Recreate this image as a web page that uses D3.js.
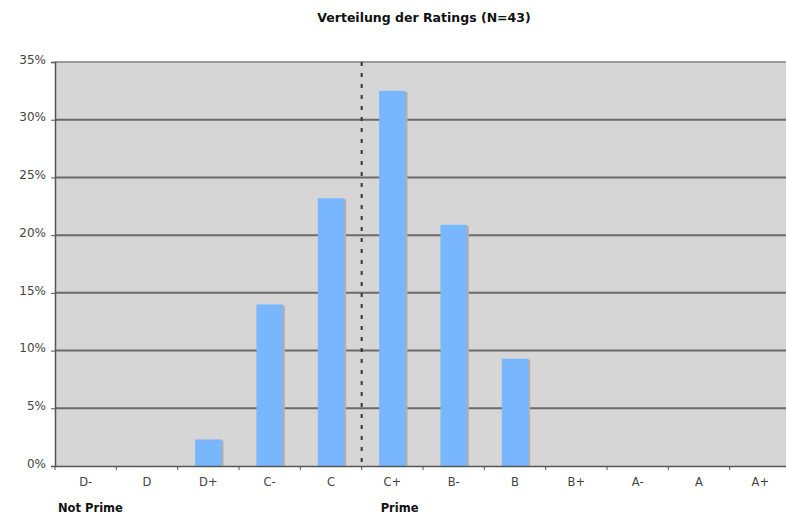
<!DOCTYPE html>
<html>
<head>
<meta charset="utf-8">
<script src="https://cdn.jsdelivr.net/npm/d3@7"></script>
<style>
  body { margin: 0; background: #fff; }
  text { font-family: "DejaVu Sans", Verdana, sans-serif; }
</style>
</head>
<body>
<div id="chart"></div>
<script>
// Rating categories and share of ratings (percent)
var ratings = ["D-", "D", "D+", "C-", "C", "C+", "B-", "B", "B+", "A-", "A", "A+"];
var shares = [0, 0, 2.3, 14.0, 23.2, 32.5, 20.9, 9.3, 0, 0, 0, 0];
var yTicks = [0, 5, 10, 15, 20, 25, 30, 35];
var groupLabels = ["Not Prime", "Prime"];
var groupStart = ["D-", "C+"];

var w = 786, h = 517;
var margin = { top: 62, right: -5, bottom: 51, left: 55 };
var width = w - margin.left - margin.right;
var height = h - margin.top - margin.bottom;

var data = ratings.map(function(r, i) { return { rating: r, value: shares[i] }; });

var svg = d3.select("#chart")
  .append("svg")
    .attr("width", w)
    .attr("height", h);

// Title
svg.append("text")
  .attr("x", 424)
  .attr("y", 22)
  .attr("text-anchor", "middle")
  .attr("font-size", "12.5px")
  .attr("font-weight", "bold")
  .attr("fill", "#111")
  .text("Verteilung der Ratings (N=43)");

var chart = svg.append("g")
  .attr("transform", "translate(" + margin.left + "," + margin.top + ")");

// Scales
var xScale = d3.scaleBand().domain(ratings).range([0, width]).paddingInner(0.57).paddingOuter(0.285);
var xTicks = d3.scaleBand().domain(ratings).range([0, width]);
var yScale = d3.scaleLinear().domain([0, 35]).range([height, 0]);

// Plot background
chart.append("rect")
  .attr("x", 0).attr("y", 0)
  .attr("width", width).attr("height", height)
  .attr("fill", "#d6d6d6");

// Gridlines
chart.selectAll(".grid").data(yTicks.filter(function(d) { return d > 0; })).enter().append("line")
  .attr("x1", 0).attr("x2", width)
  .attr("y1", function(d) { return yScale(d); })
  .attr("y2", function(d) { return yScale(d); })
  .attr("stroke", function(d) { return d === 35 ? "#9a9a9a" : "#6a6a6a"; })
  .attr("stroke-width", 2);

// Bars (with slight shadow on the right)
chart.selectAll(".shadow").data(data.filter(function(d) { return d.value > 0; })).enter().append("rect")
  .attr("x", function(d) { return xScale(d.rating) + 2; })
  .attr("y", function(d) { return yScale(d.value) + 1; })
  .attr("width", xScale.bandwidth())
  .attr("height", function(d) { return height - yScale(d.value) - 1; })
  .attr("fill", "#b0b0b0");

chart.selectAll(".bar").data(data.filter(function(d) { return d.value > 0; })).enter().append("rect")
  .attr("x", function(d) { return xScale(d.rating); })
  .attr("y", function(d) { return yScale(d.value); })
  .attr("width", xScale.bandwidth())
  .attr("height", function(d) { return height - yScale(d.value); })
  .attr("fill", "#78b6fe");

// Dashed divider between Not Prime and Prime
chart.append("line")
  .attr("x1", xTicks("C+")).attr("x2", xTicks("C+"))
  .attr("y1", 0).attr("y2", height)
  .attr("stroke", "#333")
  .attr("stroke-width", 2)
  .attr("stroke-dasharray", "4,7");

// Y axis
var yAxis = d3.axisLeft(yScale).tickValues(yTicks).tickSize(4).tickPadding(5)
  .tickFormat(function(d) { return d + "%"; });
var yG = chart.append("g").call(yAxis);
yG.select(".domain").attr("stroke", "#555").attr("stroke-width", 1.5);
yG.selectAll(".tick line").attr("stroke", "#555");
yG.selectAll(".tick text").attr("font-size", "12px").attr("fill", "#444")
  .attr("font-family", "DejaVu Sans, sans-serif").attr("dy", "0.1em");

// X axis
var xAxis = d3.axisBottom(xTicks).tickSize(0).tickPadding(12);
var xG = chart.append("g").attr("transform", "translate(0," + height + ")").call(xAxis);
xG.select(".domain").attr("stroke", "#555").attr("stroke-width", 1.5);
xG.selectAll(".tick text").attr("font-size", "11.5px").attr("fill", "#444")
  .attr("font-family", "DejaVu Sans, sans-serif");

// Small tick marks at band boundaries
chart.selectAll(".xtick").data(ratings).enter().append("line")
  .attr("x1", function(d) { return xTicks(d); })
  .attr("x2", function(d) { return xTicks(d); })
  .attr("y1", height).attr("y2", height + 4)
  .attr("stroke", "#555");

// Group labels
chart.selectAll(".group").data(groupLabels).enter().append("text")
  .attr("x", function(d, i) { return xTicks(groupStart[i]) + (i === 0 ? 3 : 19); })
  .attr("y", height + 46)
  .attr("font-size", "11.5px")
  .attr("font-weight", "bold")
  .attr("fill", "#111")
  .text(function(d) { return d; });
</script>
</body>
</html>
